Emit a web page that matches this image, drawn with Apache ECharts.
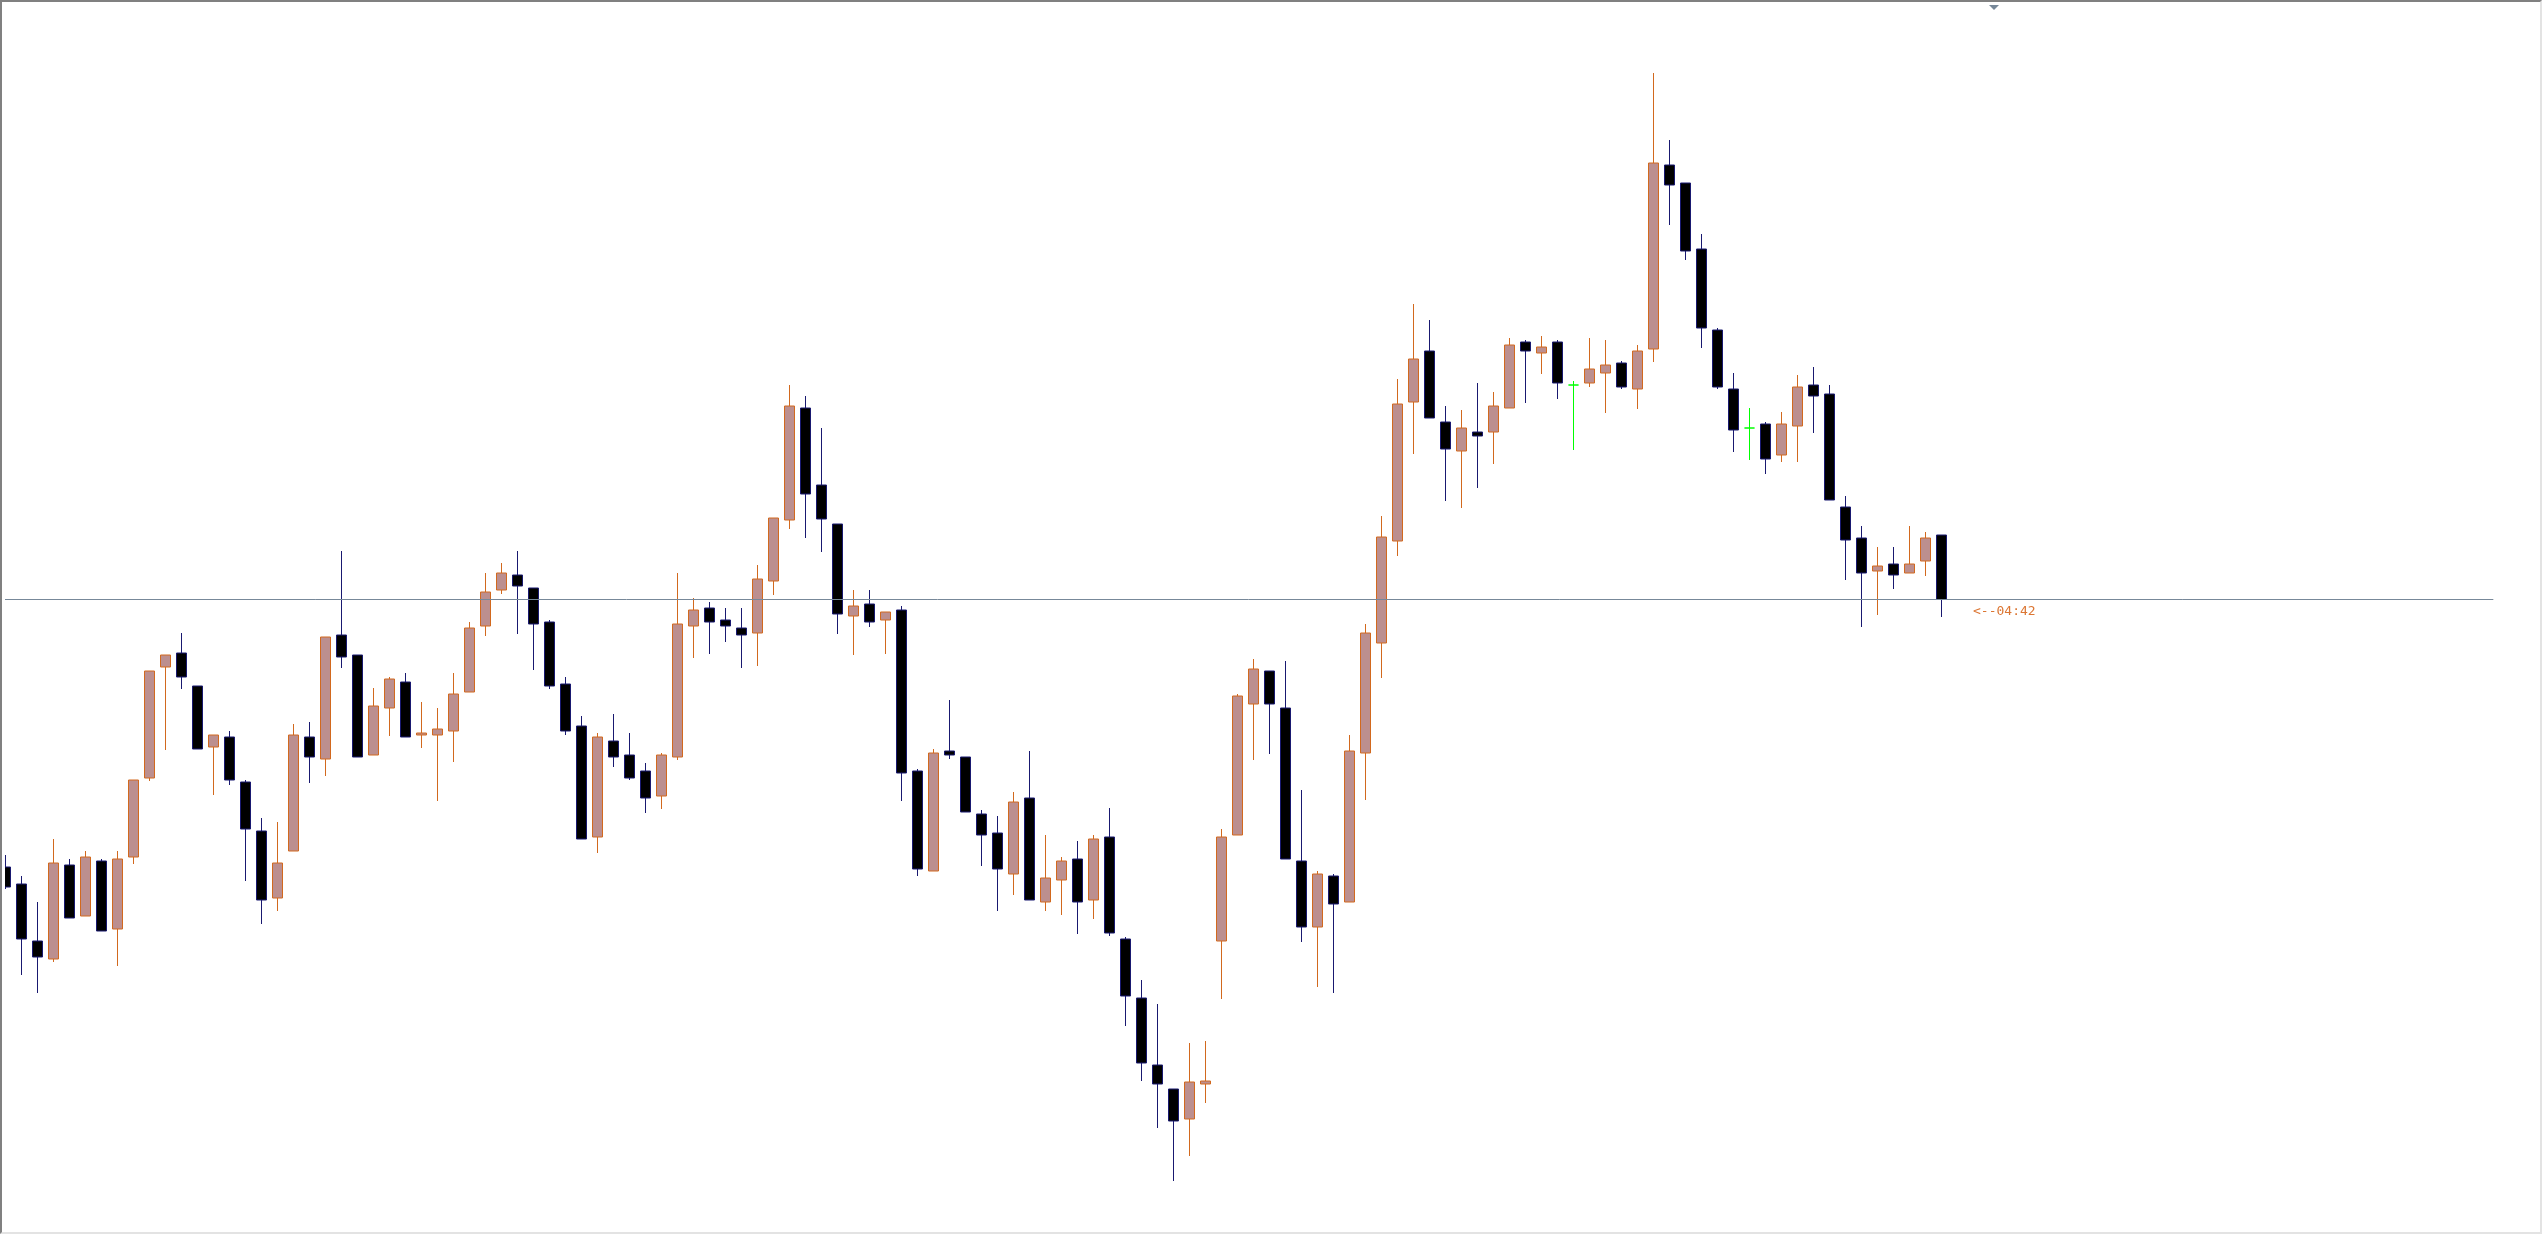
<!DOCTYPE html>
<html>
<head>
<meta charset="utf-8">
<title>candles</title>
<script src="https://cdn.jsdelivr.net/npm/echarts@6/dist/echarts.min.js"></script>
<style>
  html, body { margin: 0; padding: 0; background: #fff; }
  #wrap { position: relative; width: 2542px; height: 1234px; overflow: hidden; background: #fff; }
  #chart { position: absolute; left: 5px; top: 0; width: 2489px; height: 1234px; }
  #frame {
    position: absolute; left: 0; top: 0; width: 2542px; height: 1234px; box-sizing: border-box;
    border-top: 2px solid #808080; border-left: 2px solid #808080;
    border-right: 2px solid #e3e3e3; border-bottom: 2px solid #e3e3e3;
    pointer-events: none;
  }
</style>
</head>
<body>
<div id="wrap">
  <div id="chart"></div>
  <div id="frame"></div>
</div>
<script>
// price in points (bigger = higher)
const open = [367, 350, 293, 275, 369, 318, 373, 305, 377, 456, 567, 581, 548, 487, 497, 452, 403, 336, 383, 497,
  475, 599, 579, 479, 526, 552, 499, 499, 503, 542, 608, 644, 659, 646, 612, 550, 508, 397, 493, 479,
  463, 438, 477, 608, 626, 614, 606, 601, 653, 714, 826, 749, 710, 618, 630, 614, 624, 463, 363, 483,
  477, 420, 401, 360, 436, 332, 354, 375, 334, 397, 295, 236, 169, 145, 115, 150, 293, 399, 530, 563,
  526, 373, 307, 358, 332, 481, 591, 693, 832, 883, 812, 783, 802, 802, 826, 892, 881, 892, 849, 851,
  861, 871, 845, 885, 1069, 1051, 985, 904, 845, 806, 810, 779, 808, 849, 840, 727, 696, 663, 670, 661,
  673, 699];
const close = [347, 295, 277, 371, 316, 377, 303, 375, 454, 563, 579, 557, 485, 499, 454, 405, 334, 371, 499, 477,
  597, 577, 477, 528, 555, 497, 501, 505, 540, 606, 642, 661, 648, 610, 548, 503, 395, 497, 477, 456,
  436, 479, 610, 624, 612, 608, 599, 655, 716, 828, 740, 715, 620, 628, 612, 622, 461, 365, 481, 479,
  422, 399, 365, 432, 334, 356, 373, 332, 395, 301, 238, 171, 150, 113, 152, 153, 397, 538, 565, 530,
  375, 307, 360, 330, 483, 601, 697, 830, 875, 816, 785, 806, 798, 828, 889, 883, 887, 851, 849, 865,
  869, 847, 883, 1071, 1049, 983, 906, 847, 804, 806, 775, 810, 847, 838, 734, 694, 661, 668, 659, 670,
  696, 634.5];
const low = [345, 259, 241, 272, 316, 318, 303, 268, 370, 453, 484, 545, 485, 439, 449, 353, 310, 323, 383, 451,
  458, 566, 477, 479, 498, 497, 486, 433, 472, 542, 598, 640, 600, 564, 545, 499, 395, 381, 467, 454,
  421, 425, 474, 576, 580, 592, 566, 568, 639, 705, 696, 682, 600, 579, 607, 580, 433, 358, 363, 475,
  422, 368, 323, 339, 334, 323, 319, 300, 315, 298, 208, 153, 106, 53, 78, 131, 235, 399, 474, 480,
  375, 292, 247, 241, 332, 434, 556, 678, 780, 816, 733, 726, 746, 770, 826, 831, 860, 835, 784, 847,
  821, 845, 825, 872, 1009, 974, 886, 845, 782, 774, 760, 772, 772, 801, 734, 654, 607, 619, 645, 661,
  658, 617];
const high = [379, 358, 332, 395, 375, 383, 375, 383, 454, 563, 579, 601, 548, 499, 503, 454, 416, 412, 510, 512,
  597, 683, 579, 546, 557, 561, 532, 526, 561, 612, 661, 671, 683, 646, 614, 557, 518, 501, 520, 501,
  471, 481, 661, 636, 632, 626, 626, 669, 716, 849, 838, 806, 710, 644, 644, 622, 628, 465, 485, 534,
  477, 424, 418, 442, 483, 399, 377, 393, 399, 426, 297, 254, 230, 145, 191, 193, 405, 540, 575, 563,
  573, 444, 363, 360, 499, 610, 718, 855, 930, 914, 828, 824, 851, 842, 896, 894, 898, 894, 853, 896,
  894, 873, 889, 1161, 1094, 1051, 1000, 906, 861, 826, 812, 822, 859, 867, 849, 738, 708, 687, 687, 708,
  702, 699];
// bar slots on the screen (the right part is the chart shift, left empty)
const slotCount = 156;
const slots = Array.from({ length: slotCount }, (_, i) => String(i));
const timerText = '<--04:42';

const bullFill = '#bc8f8f', bullLine = '#d2691e';
const bearFill = '#000000', bearLine = '#191970';
const dojiLine = '#00ff00';

const candleData = open.map((o, i) => {
  const v = [o, close[i], low[i], high[i]];
  if (o === close[i]) {
    return {
      value: v,
      itemStyle: { color: dojiLine, color0: dojiLine, borderColor: dojiLine, borderColor0: dojiLine, borderColorDoji: dojiLine }
    };
  }
  return v;
});
const lastClose = close[close.length - 1];

const myChart = echarts.init(document.getElementById('chart'));
const option = {
  animation: false,
  backgroundColor: 'transparent',
  grid: { left: -7.67, top: 0, width: slotCount * 16, height: 1234, outerBoundsMode: 'none' },
  xAxis: {
    type: 'category',
    data: slots,
    boundaryGap: true,
    show: false
  },
  yAxis: {
    type: 'value',
    min: 0,
    max: 1234,
    show: false,
    splitLine: { show: false }
  },
  series: [
    {
      // bid line, kept under the candles
      type: 'line',
      data: [],
      z: 1,
      silent: true,
      markLine: {
        silent: true,
        symbol: ['none', 'none'],
        label: { show: false },
        lineStyle: { color: '#778899', type: 'solid', width: 1 },
        emphasis: { disabled: true },
        data: [{ yAxis: lastClose }]
      }
    },
    {
      type: 'candlestick',
      z: 2,
      barWidth: 10,
      data: candleData,
      itemStyle: {
        color: bullFill,
        color0: bearFill,
        borderColor: bullLine,
        borderColor0: bearLine,
        borderColorDoji: dojiLine,
        borderWidth: 1
      },
      emphasis: { disabled: true }
    }
  ],
  graphic: [
    {
      type: 'line',
      shape: { x1: 1947, y1: 599.5, x2: 1958, y2: 599.5 },
      style: { stroke: dojiLine, lineWidth: 1 },
      silent: true
    },
    {
      type: 'text',
      x: 1968,
      y: 612,
      style: {
        text: timerText,
        fill: '#dc7633',
        font: '13px "DejaVu Sans Mono"',
        verticalAlign: 'middle'
      },
      silent: true
    },
    {
      type: 'polygon',
      shape: { points: [[1984, 5], [1994, 5], [1989, 10]] },
      style: { fill: '#778899' },
      silent: true
    }
  ]
};
myChart.setOption(option);
</script>
</body>
</html>
